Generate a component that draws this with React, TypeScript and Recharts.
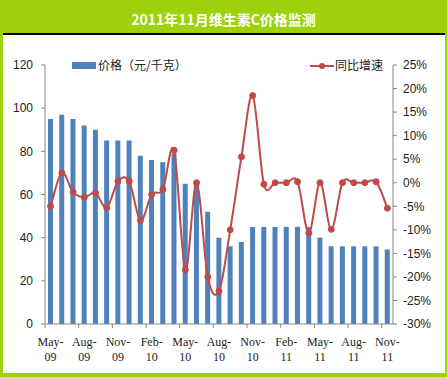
import { ComposedChart, Bar, Line, XAxis, YAxis } from "recharts"

const months = [
  "May-09", "Jun-09", "Jul-09", "Aug-09", "Sep-09", "Oct-09", "Nov-09", "Dec-09",
  "Jan-10", "Feb-10", "Mar-10", "Apr-10", "May-10", "Jun-10", "Jul-10", "Aug-10",
  "Sep-10", "Oct-10", "Nov-10", "Dec-10", "Jan-11", "Feb-11", "Mar-11", "Apr-11",
  "May-11", "Jun-11", "Jul-11", "Aug-11", "Sep-11", "Oct-11", "Nov-11",
]

// 价格 (元/千克)
const prices = [
  95, 97, 95, 92, 90, 85, 85, 85, 78, 76, 75, 79, 65, 65, 52, 40,
  36, 38, 45, 45, 45, 45, 45, 45, 40, 36, 36, 36, 36, 36, 34.5,
]

// 同比增速 (%)
const growth = [
  -5, 2.1, -2, -3.1, -2.2, -5.3, 0.3, 0.3, -8, -2.5, -1.4, 6.9, -18.5, 0, -20, -23,
  -10, 5.5, 18.5, -0.3, 0, 0, 0.2, -10.7, 0, -9.9, 0, 0, 0, 0.2, -5.4,
]

const leftTicks = [0, 20, 40, 60, 80, 100, 120]
const rightTicks = [-30, -25, -20, -15, -10, -5, 0, 5, 10, 15, 20, 25]

const data = months.map((m, i) => ({ month: m, price: prices[i], growth: growth[i] }))

const GREEN = "#9dd20b"
const BLUE = "#4f81bd"
const RED = "#be4b48"
const AXIS = "#868686"
const BW = 348 / 31

// Excel-style smoothed line (catmull-rom bezier)
function excelCurve(context: any) {
  let pts: number[][] = []
  return {
    areaStart() {},
    areaEnd() {},
    lineStart() {
      pts = []
    },
    point(x: number, y: number) {
      pts.push([+x, +y])
    },
    lineEnd() {
      if (!pts.length) return
      context.moveTo(pts[0][0], pts[0][1])
      for (let i = 0; i < pts.length - 1; i++) {
        const p0 = pts[i - 1] || pts[i]
        const p1 = pts[i]
        const p2 = pts[i + 1]
        const p3 = pts[i + 2] || p2
        context.bezierCurveTo(
          p1[0] + (p2[0] - p0[0]) / 6,
          p1[1] + (p2[1] - p0[1]) / 6,
          p2[0] - (p3[0] - p1[0]) / 6,
          p2[1] - (p3[1] - p1[1]) / 6,
          p2[0],
          p2[1]
        )
      }
    },
  }
}

const XTick = (props: any) => {
  const { x, y, payload } = props
  const [m, yr] = String(payload.value).split("-")
  return (
    <g>
      <line x1={x - BW / 2} x2={x - BW / 2} y1={y} y2={y + 4} stroke={AXIS} />
      <text x={x} y={y + 22} textAnchor="middle" fontSize={12} fill="#222" fontFamily="'Liberation Serif', serif">
        {m}-
      </text>
      <text x={x} y={y + 37} textAnchor="middle" fontSize={12} fill="#222" fontFamily="'Liberation Serif', serif">
        {yr}
      </text>
    </g>
  )
}

export default function App() {
  return (
    <div style={{ position: "absolute", left: 0, top: 0, width: 447, height: 377, background: GREEN }}>
      <div
        style={{
          position: "absolute", left: 0, top: 0, width: 447, height: 33, lineHeight: "38px",
          textAlign: "center", color: "#fff", fontWeight: "bold", fontSize: 14,
          fontFamily: "'Noto Sans CJK SC', sans-serif",
        }}
      >
        2011年11月维生素C价格监测
      </div>
      <div style={{ position: "absolute", left: 3, top: 33, width: 442, height: 2, background: "#000" }} />
      <div style={{ position: "absolute", left: 3, top: 35, width: 442, height: 338, background: "#fff" }} />

      <div style={{ position: "absolute", left: 0, top: 0 }}>
        <ComposedChart
          width={447}
          height={377}
          data={data}
          margin={{ top: 65, right: 0, bottom: 13, left: 0 }}
          barCategoryGap={0}
        >
          <XAxis
            dataKey="month"
            interval={2}
            tickLine={false}
            tickSize={0}
            tickMargin={0}
            tick={<XTick />}
            stroke={AXIS}
            height={40}
          />
          <YAxis
            yAxisId="left"
            domain={[0, 120]}
            ticks={leftTicks}
            width={45}
            tickSize={4}
            tickMargin={8}
            stroke={AXIS}
            tick={{ fill: "#222", fontSize: 12, fontFamily: "'Liberation Sans', Arial, sans-serif" }}
          />
          <YAxis
            yAxisId="right"
            orientation="right"
            domain={[-30, 25]}
            ticks={rightTicks}
            width={54}
            tickSize={4}
            tickMargin={6}
            stroke={AXIS}
            tickFormatter={(v: number) => `${v}%`}
            tick={{ fill: "#222", fontSize: 12, fontFamily: "'Liberation Sans', Arial, sans-serif", textAnchor: "start" }}
          />
          <Bar yAxisId="left" dataKey="price" fill={BLUE} barSize={5} isAnimationActive={false} />
          <Line
            yAxisId="right"
            dataKey="growth"
            type={excelCurve as any}
            stroke={RED}
            strokeWidth={2}
            dot={{ r: 3, fill: RED, stroke: RED, strokeWidth: 1 }}
            activeDot={false}
            isAnimationActive={false}
          />
        </ComposedChart>
      </div>

      {/* legend */}
      <div style={{ position: "absolute", left: 72, top: 62, width: 24, height: 7, background: BLUE }} />
      <div
        style={{
          position: "absolute", left: 98, top: 57, fontSize: 12, color: "#222", lineHeight: "16px",
          fontFamily: "'Noto Sans CJK SC', sans-serif", whiteSpace: "nowrap",
        }}
      >
        价格（元/千克）
      </div>
      <svg style={{ position: "absolute", left: 309, top: 60 }} width={26} height={12}>
        <line x1={1} x2={25} y1={6} y2={6} stroke={RED} strokeWidth={2} />
        <circle cx={13} cy={6} r={3} fill={RED} />
      </svg>
      <div
        style={{
          position: "absolute", left: 335, top: 57, fontSize: 12, color: "#222", lineHeight: "16px",
          fontFamily: "'Noto Sans CJK SC', sans-serif", whiteSpace: "nowrap",
        }}
      >
        同比增速
      </div>
    </div>
  )
}
